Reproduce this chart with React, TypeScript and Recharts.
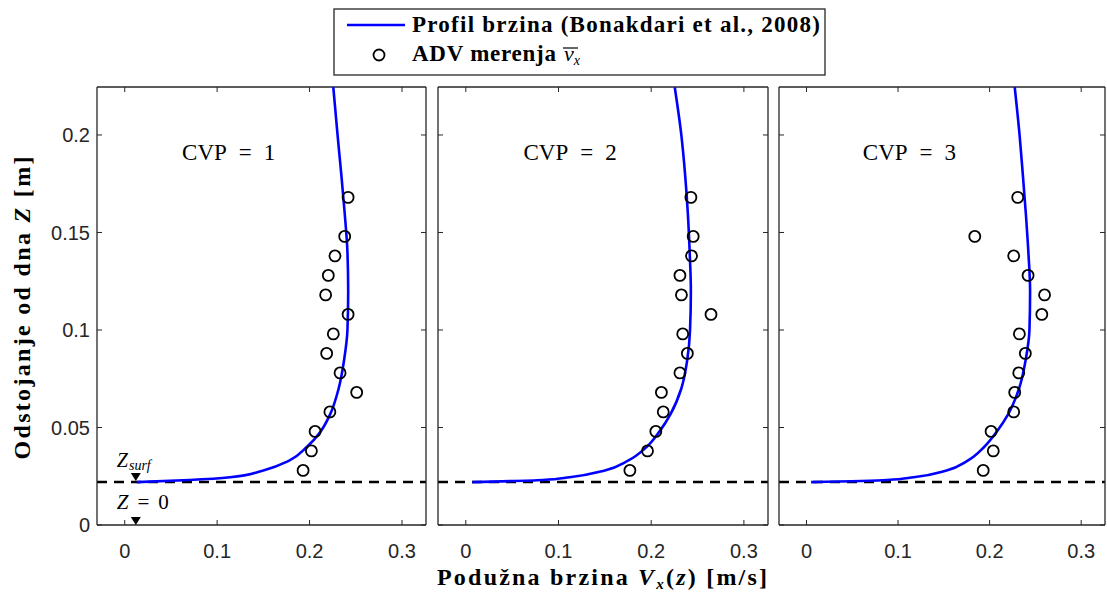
import React from "react";
import {
  ScatterChart,
  Scatter,
  XAxis,
  YAxis,
  ReferenceLine,
  ReferenceDot
} from "recharts";

// tick values
const xTicks = [0, 0.1, 0.2, 0.3];
const yTicks = [0, 0.05, 0.1, 0.15, 0.2];

const panelNumbers = ["1", "2", "3"];

// level of the bed surface (dashed line)
const zSurf = 0.022;

// ADV measurements: heights [m] and velocities [m/s]
const measuredZ = [0.028, 0.038, 0.048, 0.058, 0.068, 0.078, 0.088, 0.098, 0.108, 0.118, 0.128, 0.138, 0.148, 0.168];
const measuredV1 = [0.193, 0.202, 0.206, 0.222, 0.251, 0.233, 0.2185, 0.2257, 0.2417, 0.2174, 0.2203, 0.2275, 0.238, 0.2417];
const measuredV2 = [0.177, 0.196, 0.205, 0.213, 0.211, 0.231, 0.239, 0.234, 0.2645, 0.2326, 0.231, 0.2435, 0.2453, 0.2428];
const measuredV3 = [0.193, 0.204, 0.2016, 0.2263, 0.2274, 0.2318, 0.239, 0.2325, 0.257, 0.26, 0.242, 0.2263, 0.1838, 0.2307];

// velocity profile (Bonakdari et al., 2008)
const profileZ = [0.022, 0.0231, 0.0245, 0.028, 0.033, 0.04, 0.048, 0.057, 0.07, 0.085, 0.1, 0.12, 0.14, 0.16, 0.18, 0.2, 0.2245];
const profileV1 = [0.013, 0.07, 0.114, 0.15, 0.178, 0.197, 0.212, 0.2225, 0.2315, 0.2375, 0.241, 0.2418, 0.241, 0.238, 0.2343, 0.2303, 0.2257];
const profileV2 = [0.007, 0.083, 0.112, 0.15, 0.175, 0.195, 0.209, 0.221, 0.2325, 0.239, 0.2419, 0.2428, 0.2415, 0.2395, 0.2365, 0.2325, 0.2254];
const profileV3 = [0.005, 0.088, 0.117, 0.153, 0.176, 0.194, 0.208, 0.2205, 0.2322, 0.2395, 0.2435, 0.2442, 0.2423, 0.2395, 0.2362, 0.2327, 0.2274];

const toPoints = (zs: number[], vs: number[]) => zs.map((z, i) => ({ z, v: vs[i] }));

const panels = [
  { measured: toPoints(measuredZ, measuredV1), profile: toPoints(profileZ, profileV1) },
  { measured: toPoints(measuredZ, measuredV2), profile: toPoints(profileZ, profileV2) },
  { measured: toPoints(measuredZ, measuredV3), profile: toPoints(profileZ, profileV3) }
];

const axisColor = "#262626";
const sans = "'Liberation Sans', Arial, sans-serif";
const serif = "'Liberation Serif', 'Times New Roman', serif";

const xDomain = [-0.03, 0.326];
const yDomain = [0, 0.2246];

const Circle = (p: any) => (
  <circle cx={p.cx} cy={p.cy} r={5.5} fill="none" stroke="#000" strokeWidth={1.8} />
);

const Nothing = () => <g />;

const SurfMark = (p: any) => (
  <g>
    <path d={`M${p.cx - 5},${p.cy - 8} L${p.cx + 5},${p.cy - 8} L${p.cx},${p.cy} Z`} fill="#000" />
    <text x={p.cx - 19} y={p.cy - 14} fontFamily={serif} fontSize={20} fontStyle="italic" fill="#000">
      Z<tspan fontSize={14} dy={3} dx={1}>surf</tspan>
    </text>
  </g>
);

const ZeroMark = (p: any) => (
  <g>
    <path d={`M${p.cx - 5},${p.cy - 8} L${p.cx + 5},${p.cy - 8} L${p.cx},${p.cy} Z`} fill="#000" />
    <text x={p.cx - 19} y={p.cy - 16} fontFamily={serif} fontSize={21} fill="#000">
      <tspan fontStyle="italic">Z</tspan>
      <tspan dx={9}>=</tspan>
      <tspan dx={9}>0</tspan>
    </text>
  </g>
);

const PanelTitle = (num: string) => (p: any) => (
  <text x={p.cx} y={p.cy} textAnchor="middle" fontFamily={serif} fontSize={23} fill="#000">
    CVP<tspan dx={12}>=</tspan>
    <tspan dx={12}>{num}</tspan>
  </text>
);

function Panel({ idx, left, width, leftW, rightW }: any) {
  const first = idx === 0;
  const d = panels[idx];
  return (
    <div style={{ position: "absolute", left, top: 0 }}>
      <ScatterChart width={width} height={594} margin={{ top: 80, right: 0, bottom: 39, left: 0 }}>
        <XAxis
          xAxisId="b"
          type="number"
          dataKey="v"
          domain={xDomain}
          allowDataOverflow
          ticks={xTicks}
          interval={0}
          height={30}
          tickSize={-5}
          tickMargin={24}
          axisLine={{ stroke: axisColor, strokeWidth: 1.3 }}
          tickLine={{ stroke: axisColor }}
          tick={{ fill: axisColor, fontSize: 20, fontFamily: sans }}
        />
        <XAxis
          xAxisId="t"
          orientation="top"
          type="number"
          dataKey="v"
          domain={xDomain}
          allowDataOverflow
          ticks={xTicks}
          interval={0}
          height={7}
          tickSize={-5}
          tickFormatter={() => ""}
          axisLine={{ stroke: axisColor, strokeWidth: 1.3 }}
          tickLine={{ stroke: axisColor }}
        />
        <YAxis
          yAxisId="l"
          type="number"
          dataKey="z"
          domain={yDomain}
          allowDataOverflow
          ticks={yTicks}
          interval={0}
          width={leftW}
          tickSize={-5}
          tickMargin={12}
          tickFormatter={first ? (v: number) => String(v) : () => ""}
          axisLine={{ stroke: axisColor, strokeWidth: 1.3 }}
          tickLine={{ stroke: axisColor }}
          tick={{ fill: axisColor, fontSize: 20, fontFamily: sans }}
        />
        <YAxis
          yAxisId="r"
          orientation="right"
          type="number"
          dataKey="z"
          domain={yDomain}
          allowDataOverflow
          ticks={yTicks}
          interval={0}
          width={rightW}
          tickSize={-5}
          tickFormatter={() => ""}
          axisLine={{ stroke: axisColor, strokeWidth: 1.3 }}
          tickLine={{ stroke: axisColor }}
        />
        <ReferenceLine
          xAxisId="b"
          yAxisId="l"
          y={zSurf}
          stroke="#000"
          strokeWidth={2.5}
          strokeDasharray="10 7"
        />
        <Scatter
          xAxisId="b"
          yAxisId="l"
          data={d.profile}
          line={{ stroke: "#0000ff", strokeWidth: 2.6 }}
          lineJointType="monotoneY"
          shape={Nothing}
          isAnimationActive={false}
        />
        <Scatter
          xAxisId="b"
          yAxisId="l"
          data={d.measured}
          shape={Circle}
          isAnimationActive={false}
        />
        <ReferenceDot xAxisId="b" yAxisId="l" x={0.1125} y={0.1872} r={0} shape={PanelTitle(panelNumbers[idx])} />
        {first && <ReferenceDot xAxisId="b" yAxisId="l" x={0.012} y={0.0225} r={0} shape={SurfMark} />}
        {first && <ReferenceDot xAxisId="b" yAxisId="l" x={0.012} y={0} r={0} shape={ZeroMark} />}
      </ScatterChart>
    </div>
  );
}

function Labels() {
  return (
    <svg width={1107} height={594} style={{ position: "absolute", left: 0, top: 0, pointerEvents: "none" }}>
      {/* legend */}
      <rect x={334} y={9} width={491} height={66} fill="#fff" stroke={axisColor} strokeWidth={1.3} />
      <line x1={347} x2={405} y1={25} y2={25} stroke="#0000ff" strokeWidth={2.6} />
      <text x={412} y={32} fontFamily={serif} fontWeight="bold" fontSize={23} fill="#000" textLength={408}>
        Profil brzina (Bonakdari et al., 2008)
      </text>
      <circle cx={379} cy={55} r={5.5} fill="none" stroke="#000" strokeWidth={1.8} />
      <text x={412} y={61} fontFamily={serif} fontWeight="bold" fontSize={23} fill="#000" textLength={144}>
        ADV merenja
      </text>
      <text x={564} y={61} fontFamily={serif} fontStyle="italic" fontSize={22} fill="#000">
        v<tspan fontSize={14} dy={4}>x</tspan>
      </text>
      <line x1={563} x2={578} y1={48} y2={48} stroke="#000" strokeWidth={1.2} />

      {/* y axis title */}
      <text
        transform="translate(30,308) rotate(-90)"
        textAnchor="middle"
        fontFamily={serif}
        fontWeight="bold"
        fontSize={24}
        fill="#000"
        textLength={303}
      >
        Odstojanje od dna <tspan fontStyle="italic">Z</tspan> [m]
      </text>

      {/* x axis title */}
      <text x={602} y={585} textAnchor="middle" fontFamily={serif} fontWeight="bold" fontSize={24} fill="#000" textLength={330}>
        Podužna brzina <tspan fontStyle="italic">V</tspan>
        <tspan fontSize={15} dy={4} fontStyle="italic">x</tspan>
        <tspan dy={-4}>(</tspan>
        <tspan fontStyle="italic">z</tspan>) [m/s]
      </text>
    </svg>
  );
}

export default function App() {
  return (
    <div style={{ position: "absolute", left: 0, top: 0, width: 1107, height: 594, background: "#fff" }}>
      <Panel idx={0} left={0} width={430} leftW={97} rightW={4} />
      <Panel idx={1} left={430} width={342} leftW={8} rightW={4} />
      <Panel idx={2} left={772} width={335} leftW={7} rightW={2} />
      <Labels />
    </div>
  );
}
